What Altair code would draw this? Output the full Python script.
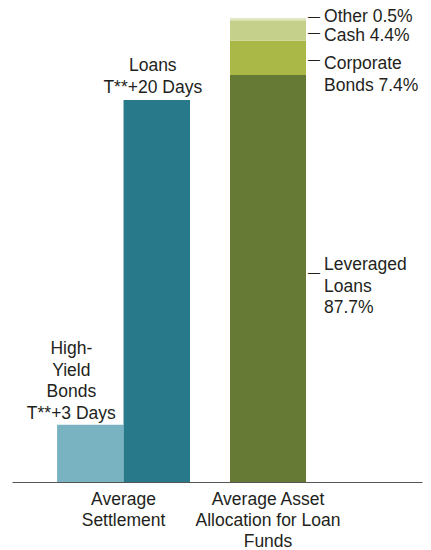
import altair as alt
import pandas as pd

# ---- data ----
groups = ["Average Settlement", "Average Asset Allocation for Loan Funds"]
group_lines = [["Average", "Settlement"], ["Average Asset", "Allocation for Loan", "Funds"]]

settle_series = ["High-Yield Bonds", "Loans"]
settle_name_lines = [["High-", "Yield", "Bonds"], ["Loans"]]
settle_days = [3, 20]

alloc_cats = ["Leveraged Loans", "Corporate Bonds", "Cash", "Other"]
alloc_pct = [87.7, 7.4, 4.4, 0.5]

# ---- styles ----
FONT = "Liberation Sans"
TXT = "#231f20"
FS = 17.5
settle_colors = ["#79b3c1", "#287a8a"]
alloc_colors = ["#667a35", "#a9b846", "#c5d18a", "#e1e7c3"]

settle_df = pd.DataFrame({
    "group": groups[0],
    "series": settle_series,
    "days": settle_days,
    "label": ["\n".join(n + [f"T**+{d} Days"]) for n, d in zip(settle_name_lines, settle_days)],
})

label_fmt = {
    "Leveraged Loans": "Leveraged\nLoans\n{p}%",
    "Corporate Bonds": "Corporate\nBonds {p}%",
    "Cash": "Cash {p}%",
    "Other": "Other {p}%",
}
alloc_df = pd.DataFrame({
    "group": groups[1],
    "cat": alloc_cats,
    "pct": alloc_pct,
    "order": list(range(len(alloc_cats))),
    "label": [label_fmt[c].format(p=p) for c, p in zip(alloc_cats, alloc_pct)],
})

label_expr = " : ".join(
    f"datum.label == '{g}' ? {lines!r}" for g, lines in zip(groups[:-1], group_lines[:-1])
) + f" : {group_lines[-1]!r}"

x_enc = alt.X(
    "group:N",
    scale=alt.Scale(domain=groups, paddingInner=0.08, paddingOuter=0.459, align=0.34, round=False),
    axis=alt.Axis(
        title=None, labelExpr=label_expr, labelFont=FONT, labelFontSize=FS, labelColor=TXT,
        labelLineHeight=21, labelPadding=8, ticks=False, tickSize=0, domainColor="#555555",
        domainWidth=1, labelAngle=0, labelOverlap=False, grid=False,
    ),
)

y_settle = alt.Y("days:Q", scale=alt.Scale(domain=[0, 24.29], nice=False, zero=True), axis=None)
xoff = alt.XOffset("series:N", scale=alt.Scale(domain=settle_series, paddingInner=0, paddingOuter=0))

settle_base = alt.Chart(settle_df)
settle_bars = settle_base.mark_bar(stroke=None).encode(
    x=x_enc, xOffset=xoff, y=y_settle,
    color=alt.Color("series:N", scale=alt.Scale(domain=settle_series, range=settle_colors), legend=None),
)
settle_dx = {"High-Yield Bonds": -19, "Loans": -4}
settle_dy = {"High-Yield Bonds": -70.5, "Loans": -28.5}
settle_texts = [
    settle_base.transform_filter(alt.datum.series == s).mark_text(
        align="center", baseline="alphabetic", lineBreak="\n", lineHeight=21.5,
        font=FONT, fontSize=FS, color=TXT, dx=settle_dx[s], dy=settle_dy[s],
    ).encode(x=x_enc, xOffset=xoff, y=y_settle, text="label:N")
    for s in settle_series
]
settle_layer = alt.layer(settle_bars, *settle_texts)

alloc_base = alt.Chart(alloc_df).transform_stack(
    stack="pct", as_=["y0", "y1"], groupby=["group"], sort=[alt.SortField("order", order="ascending")]
).transform_calculate(mid="(datum.y0 + datum.y1) / 2")

y_alloc_scale = alt.Scale(domain=[0, 100], nice=False)
alloc_bars = alloc_base.mark_bar(stroke=None, width=alt.RelativeBandSize(0.572)).encode(
    x=x_enc,
    y=alt.Y("y0:Q", scale=y_alloc_scale, axis=None),
    y2="y1:Q",
    color=alt.Color("cat:N", scale=alt.Scale(domain=alloc_cats, range=alloc_colors), legend=None),
)
dash_dy = {"Leveraged Loans": -6, "Corporate Bonds": 2, "Cash": 2, "Other": -2}
text_dy = {"Leveraged Loans": -8.5, "Corporate Bonds": 11.4, "Cash": 10.2, "Other": 3.1}
alloc_marks = []
for c in alloc_cats:
    sub = alloc_base.transform_filter(alt.datum.cat == c)
    alloc_marks.append(sub.mark_text(
        text="\u2014", align="left", baseline="middle", font=FONT, fontSize=12, color=TXT,
        dx=40, dy=dash_dy[c],
    ).encode(x=x_enc, y=alt.Y("mid:Q", scale=y_alloc_scale, axis=None)))
    alloc_marks.append(sub.mark_text(
        align="left", baseline="alphabetic", lineBreak="\n", lineHeight=21.5,
        font=FONT, fontSize=FS, color=TXT, dx=56, dy=text_dy[c],
    ).encode(x=x_enc, y=alt.Y("mid:Q", scale=y_alloc_scale, axis=None), text="label:N"))
alloc_layer = alt.layer(alloc_bars, *alloc_marks)

chart = alt.layer(settle_layer, alloc_layer).resolve_scale(
    y="independent", color="independent"
).properties(
    width=410, height=464,
    autosize=alt.AutoSizeParams(type="none"),
    padding={"left": 12, "top": 18, "right": 9, "bottom": 68},
    background="white",
).configure_view(stroke=None)

chart.save("out.html", embed_options={"renderer": "svg", "actions": False})
